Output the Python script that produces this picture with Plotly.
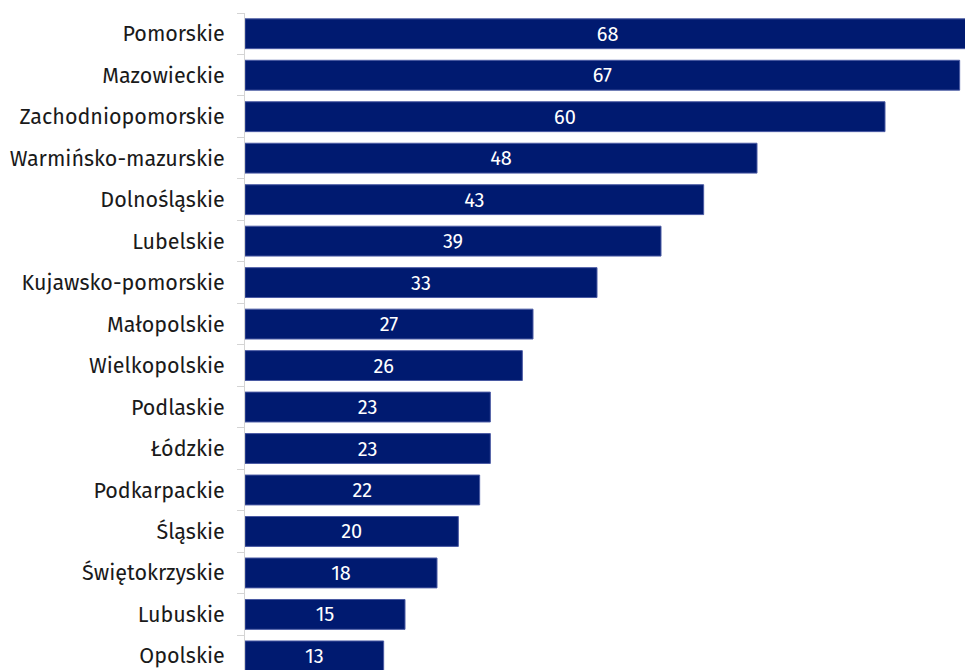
import plotly.graph_objects as go

categories = ["Pomorskie", "Mazowieckie", "Zachodniopomorskie", "Warmińsko-mazurskie",
              "Dolnośląskie", "Lubelskie", "Kujawsko-pomorskie", "Małopolskie",
              "Wielkopolskie", "Podlaskie", "Łódzkie", "Podkarpackie", "Śląskie",
              "Świętokrzyskie", "Lubuskie", "Opolskie"]
values = [68, 67, 60, 48, 43, 39, 33, 27, 26, 23, 23, 22, 20, 18, 15, 13]

FONT = "Fira Sans, Noto Sans, sans-serif"

fig = go.Figure(go.Bar(
    x=values, y=categories, orientation="h",
    marker=dict(color="#001a70", line=dict(color="#4a5aa3", width=1)),
    text=[str(v) for v in values], textposition="inside", insidetextanchor="middle",
    textangle=0,
    textfont=dict(color="white", size=20, family=FONT),
    constraintext="none",
    width=0.72,
))

fig.update_layout(
    width=965, height=670,
    margin=dict(l=245, r=0, t=13, b=0),
    paper_bgcolor="white", plot_bgcolor="white",
    showlegend=False,
    uniformtext=dict(minsize=20, mode="show"),
    font=dict(family=FONT, size=21.5, color="#1a1a1a"),
    xaxis=dict(range=[0, 67.5], showgrid=False, zeroline=False, showticklabels=False,
               showline=False, fixedrange=True),
    yaxis=dict(categoryorder="array", categoryarray=categories,
               range=[15.34, -0.5], showgrid=False, zeroline=False,
               showline=True, linecolor="#d4d4d4", linewidth=1,
               ticks="outside", tickson="boundaries", ticklen=7, tickcolor="#d4d4d4",
               ticklabelstandoff=15, fixedrange=True,
               tickfont=dict(size=21.5, color="#1a1a1a")),
)

fig.write_html("out.html", config={"displayModeBar": False},
               post_script="document.body.style.margin='0';document.body.style.overflow='hidden';")
